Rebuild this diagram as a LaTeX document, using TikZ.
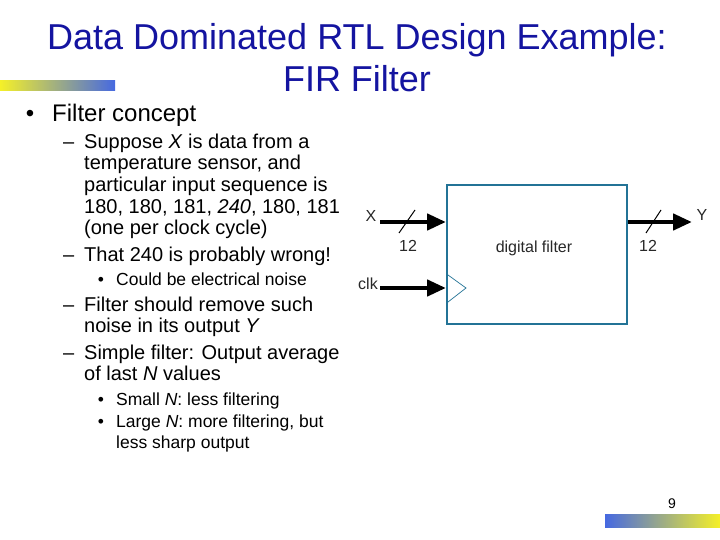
\documentclass[tikz,border=0pt]{standalone}
\usepackage{fontspec}
\setmainfont{Liberation Sans}
\usetikzlibrary{arrows.meta,shadings}
\definecolor{titleblue}{RGB}{20,20,160}
\definecolor{boxblue}{RGB}{35,115,150}
\definecolor{barblue}{RGB}{70,105,225}
\definecolor{baryellow}{RGB}{245,240,40}
\definecolor{diagtext}{RGB}{40,40,40}
\tikzset{
  titletext/.style={font=\fontsize{36}{42}\selectfont, text=titleblue, anchor=base, inner sep=0pt},
  lvlone/.style={font=\fontsize{24}{28}\selectfont, anchor=base west, inner sep=0pt},
  lvltwo/.style={font=\fontsize{20}{24}\selectfont, anchor=base west, inner sep=0pt},
  lvlthree/.style={font=\fontsize{17.5}{21}\selectfont, anchor=base west, inner sep=0pt},
  diaglabel/.style={font=\fontsize{16}{19}\selectfont, text=diagtext, inner sep=0pt},
  bus/.style={line width=4.5pt, -{Triangle[length=19pt,width=16pt]}},
  slashline/.style={line width=1pt},
}
\begin{document}
\begin{tikzpicture}[x=1pt,y=-1pt]
\useasboundingbox[fill=white] (0,0) rectangle (720,540);
% gradient bars
\shade[left color=baryellow, right color=barblue] (0,81) rectangle (115,91);
\shade[left color=barblue, right color=baryellow] (605,514) rectangle (720,527);
% title
\node[titletext] (t1) at (357,50) {Data Dominated RTL Design Example:};
\node[titletext] (t2) at (357,92) {FIR Filter};
% bullets
\node[lvlone, anchor=base] (b1) at (30,121.6) {•};
\node[lvlone] (l1) at (52,121.6) {Filter concept};
\node[lvltwo] (d1) at (63,148.2) {–};
\node[lvltwo] (l2) at (84,148.2) {Suppose \textit{X} is data from a};
\node[lvltwo] (l3) at (84,169.9) {temperature sensor, and};
\node[lvltwo] (l4) at (84,191.6) {particular input sequence is};
\node[lvltwo] (l5) at (84,213.3) {180, 180, 181, \textit{240}, 180, 181};
\node[lvltwo] (l6) at (84,235.0) {(one per clock cycle)};
\node[lvltwo] (d2) at (63,261.2) {–};
\node[lvltwo] (l7) at (84,261.2) {That 240 is probably wrong!};
\node[lvlthree, anchor=base] (b2) at (101,285.3) {•};
\node[lvlthree] (l8) at (116,285.3) {Could be electrical noise};
\node[lvltwo] (d3) at (63,311.2) {–};
\node[lvltwo] (l9) at (84,311.2) {Filter should remove such};
\node[lvltwo] (l10) at (84,332.9) {noise in its output \textit{Y}};
\node[lvltwo] (d4) at (63,359.2) {–};
\node[lvltwo] (l11) at (84,359.2) {Simple filter: Output average};
\node[lvltwo] (l12) at (84,380.9) {of last \textit{N} values};
\node[lvlthree, anchor=base] (b3) at (101,405.5) {•};
\node[lvlthree] (l13) at (116,405.5) {Small \textit{N}: less filtering};
\node[lvlthree, anchor=base] (b4) at (101,427.2) {•};
\node[lvlthree] (l14) at (116,427.2) {Large \textit{N}: more filtering, but};
\node[lvlthree] (l15) at (116,448.9) {less sharp output};
% page number
\node[font=\fontsize{14}{16}\selectfont, inner sep=0pt] (pg) at (672,504) {9};
% diagram
\node[draw=boxblue, line width=2pt, minimum width=180pt, minimum height=139pt, inner sep=0pt] (box) at (537,254.5) {};
\node[diaglabel] (dl) at (534,248) {digital filter};
\coordinate (xin) at (380,222);
\coordinate (yout) at (692,222);
\coordinate (clkin) at (380,288);
\draw[bus] (xin) -- (box.west |- xin);
\draw[bus] (box.east |- yout) -- (yout);
\draw[bus] (clkin) -- (box.west |- clkin);
\coordinate (s1a) at (399,233);
\coordinate (s1b) at (415,210);
\coordinate (s2a) at (646,233);
\coordinate (s2b) at (661,210);
\draw[slashline] (s1a) -- (s1b);
\draw[slashline] (s2a) -- (s2b);
\coordinate (ck1) at (448,275);
\coordinate (ck2) at (466,288);
\coordinate (ck3) at (448,302);
\draw[boxblue, line width=0.7pt] (ck1) -- (ck2) -- (ck3);
\node[diaglabel] (xl) at (371,216) {X};
\node[diaglabel] (yl) at (702,215) {Y};
\node[diaglabel] (n1) at (408,246) {12};
\node[diaglabel] (n2) at (648,246) {12};
\node[diaglabel] (cl) at (368,284) {clk};
\end{tikzpicture}
\end{document}
